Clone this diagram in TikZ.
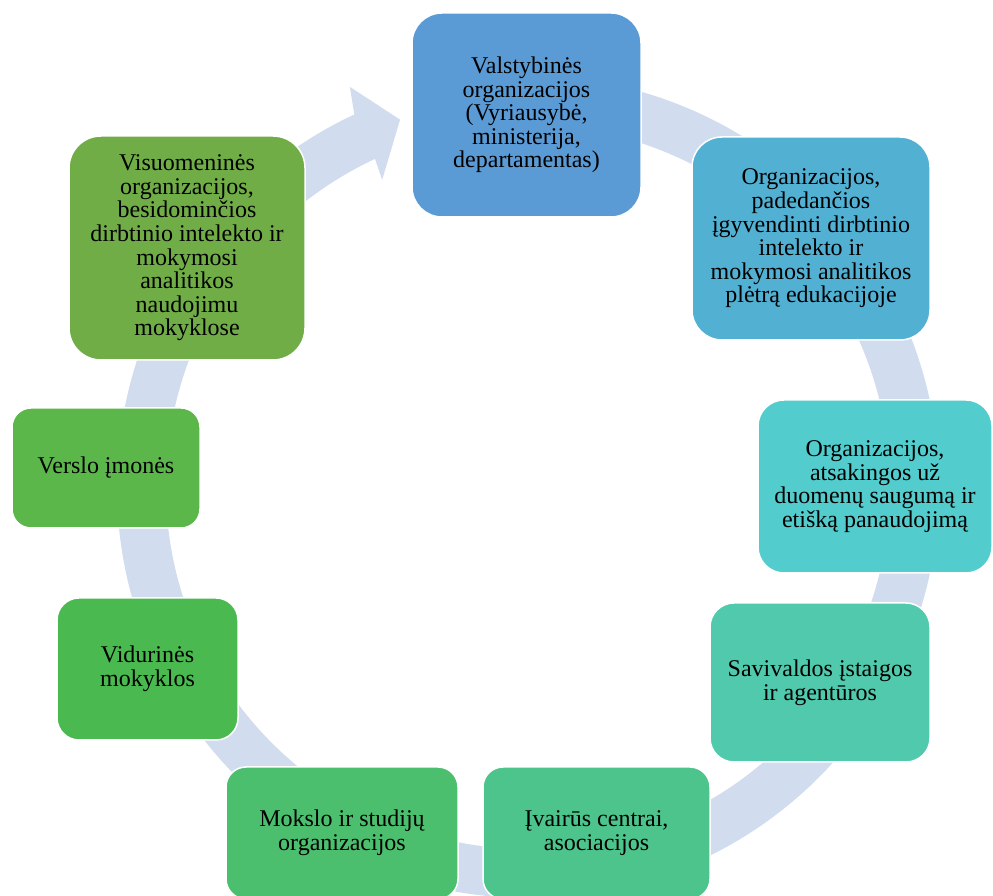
\documentclass[tikz,border=0pt]{standalone}
\usepackage{fontspec}
\setmainfont{Liberation Serif}
\usepackage{xcolor}
\usepackage{tikz}
\usetikzlibrary{calc}

\definecolor{ringblue}{RGB}{209,221,239}
\definecolor{orgA}{RGB}{91,155,213}
\definecolor{orgB}{RGB}{82,176,210}
\definecolor{orgC}{RGB}{82,204,204}
\definecolor{orgD}{RGB}{80,201,172}
\definecolor{orgE}{RGB}{77,196,140}
\definecolor{orgF}{RGB}{76,191,110}
\definecolor{orgG}{RGB}{74,186,80}
\definecolor{orgH}{RGB}{91,183,74}
\definecolor{orgI}{RGB}{112,173,71}

\begin{document}
\begin{tikzpicture}[
      x=1pt, y=1pt,
      box/.style={rectangle, rounded corners=#1, draw=white, line width=1.5pt,
                  align=center, inner sep=0pt,
                  font=\fontsize{24}{23.6}\selectfont},
      ring/.style={fill=ringblue}
    ]
    \useasboundingbox (0,0) rectangle (993,896);
    % circular arrow behind the boxes
    \coordinate (c) at (528,409);
    \fill[ring] ($(c)+(90:411)$) arc[start angle=90, end angle=-245, radius=411]
      -- ($(c)+(114:438)$) -- ($(c)+(109.2:389)$) -- ($(c)+(115.4:340)$)
      -- ($(c)+(115:362)$) arc[start angle=115, end angle=450, radius=362] -- cycle;
    \node[box=30pt, fill=orgA, minimum width=229pt, minimum height=204pt] (gov) at (526.5,781)
      {Valstybinės\\organizacijos\\(Vyriausybė,\\ministerija,\\departamentas)};
    \node[box=30pt, fill=orgB, minimum width=238pt, minimum height=203pt] (help) at (811,657.5)
      {Organizacijos,\\padedančios\\įgyvendinti dirbtinio\\intelekto ir\\mokymosi analitikos\\plėtrą edukacijoje};
    \node[box=26pt, fill=orgC, minimum width=234pt, minimum height=173pt] (data) at (875,409.5)
      {Organizacijos,\\atsakingos už\\duomenų saugumą ir\\etišką panaudojimą};
    \node[box=24pt, fill=orgD, minimum width=220pt, minimum height=159pt] (muni) at (820,213.5)
      {Savivaldos įstaigos\\ir agentūros};
    \node[box=20pt, fill=orgE, minimum width=227pt, minimum height=132pt] (cent) at (596.5,63)
      {Įvairūs centrai,\\asociacijos};
    \node[box=20pt, fill=orgF, minimum width=232pt, minimum height=132pt] (univ) at (342,63)
      {Mokslo ir studijų\\organizacijos};
    \node[box=22pt, fill=orgG, minimum width=181pt, minimum height=142pt] (school) at (147.5,227)
      {Vidurinės\\mokyklos};
    \node[box=19pt, fill=orgH, minimum width=188pt, minimum height=120pt] (biz) at (106,428)
      {Verslo įmonės};
    \node[box=32pt, fill=orgI, minimum width=236pt, minimum height=224pt] (ngo) at (187,648)
      {Visuomeninės\\organizacijos,\\besidominčios\\dirbtinio intelekto ir\\mokymosi\\analitikos\\naudojimu\\mokyklose};
\end{tikzpicture}
\end{document}
